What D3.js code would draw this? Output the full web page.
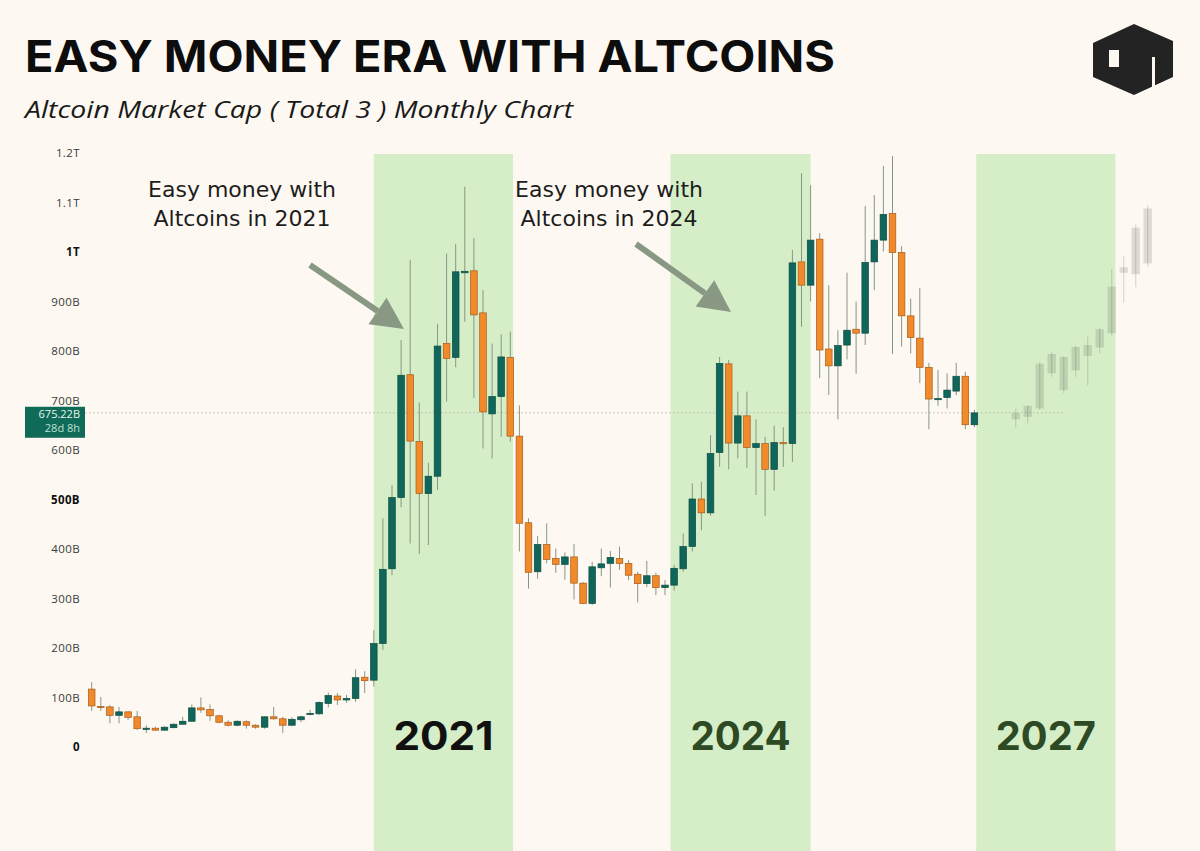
<!DOCTYPE html>
<html>
<head>
<meta charset="utf-8">
<script src="https://cdn.jsdelivr.net/npm/d3@7"></script>
<style>
  body { margin: 0; background: #fdf9f2; }
  svg { display: block; }
</style>
</head>
<body>
<svg id="chart" width="1200" height="851"></svg>
<script>
// monthly candles, values in billions (B)
const opens  = [117,82,81,64,71,61,37,38,34,39,46,52,79,76,63,50,44,51,44,40,61,57,44,55,67,67,88,103,95,98,
                141,135,209,360,504,752,617,512,547,815,787,958,962,877,673,708,787,628,453,354,409,381,369,384,331,290,362,371,381,371,
                349,330,346,322,327,360,405,501,473,595,774,614,669,605,613,561,615,613,980,933,1026,804,770,812,844,836,980,1024,1078,999,
                871,826,767,703,706,719,749,651];
const highs  = [131,101,85,81,72,73,44,41,42,48,61,86,100,86,65,54,54,54,46,62,81,61,60,63,75,92,110,109,105,157,
                153,236,462,529,822,984,696,574,855,997,1016,1132,1028,923,815,834,839,690,462,426,452,401,393,410,333,374,401,396,405,378,
                354,376,352,337,368,431,533,536,630,788,782,718,718,662,627,649,646,1004,1159,1135,1038,933,842,958,900,1093,1115,1174,1194,1012,
                906,927,776,762,755,776,758,681];
const lows   = [73,73,48,48,55,34,28,33,33,38,45,51,69,53,48,42,42,37,37,37,55,28,42,50,64,65,80,85,89,91,
                109,122,196,347,484,411,390,408,519,698,767,859,705,603,583,627,617,395,320,340,371,352,338,298,289,287,345,322,358,337,
                292,323,307,307,316,354,395,438,467,566,561,583,564,509,467,518,566,576,849,900,745,711,662,783,754,812,923,1001,794,809,
                795,735,642,689,684,711,642,646];
const closes = [83,81,64,71,60,37,38,34,40,46,52,79,75,63,50,44,52,44,40,61,57,44,56,61,68,90,104,95,98,140,
                134,209,359,504,751,618,512,547,810,785,960,961,873,677,708,788,628,452,353,409,379,369,384,331,290,364,370,383,371,347,
                330,346,322,327,361,405,501,473,593,775,614,669,605,613,561,615,613,978,933,1024,802,770,811,842,836,979,1024,1076,999,871,
                827,767,703,704,721,749,651,675];

// projected path (faded candles)
const ghostOpen  = [662,667,684,755,788,761,790,807,836,958,955,977];
const ghostHigh  = [684,691,778,797,790,810,829,846,965,992,1056,1095];
const ghostLow   = [646,654,681,748,715,748,731,795,832,898,929,970];
const ghostClose = [675,689,774,794,721,808,812,844,930,969,1049,1088];

// highlighted easy-money windows (candle index units)
const eraNames = ["2021", "2024", "2027"];
const eraStart = [31.0, 63.6, 97.2];
const eraEnd   = [46.3, 79.0, 112.5];
const eraColor = ["#111111", "#2d4a24", "#2d4a24"];

const yTickValues = [0,100,200,300,400,500,600,700,800,900,1000,1100,1200];
const yTickLabels = ["0","100B","200B","300B","400B","500B","600B","700B","800B","900B","1T","1.1T","1.2T"];
const yTickBold   = ["0","500B","1T"];

const lastPrice = 675.22;

const svg = d3.select("#chart");
const W = 1200, H = 851;

svg.append("rect").attr("width", W).attr("height", H).attr("fill", "#fdf9f2");

const y = d3.scaleLinear().domain([0, 1200]).range([747, 153]);
const x = d3.scaleLinear().domain([0, opens.length - 1]).range([91.7, 974.4]);
const gx = d3.scaleLinear().domain([0, ghostOpen.length - 1]).range([1015.7, 1147.7]);
const bodyW = 6.6, ghostW = 8.4;

// era bands
eraNames.forEach((name, i) => {
    svg.append("rect")
        .attr("x", x(eraStart[i]))
        .attr("y", 154)
        .attr("width", x(eraEnd[i]) - x(eraStart[i]))
        .attr("height", H - 154)
        .attr("fill", "#d5eec8");
});

// y axis labels
const yAxis = svg.append("g");
yTickValues.forEach((v, i) => {
    const bold = yTickBold.includes(yTickLabels[i]);
    yAxis.append("text")
        .attr("x", 80)
        .attr("y", y(v))
        .attr("dy", "0.35em")
        .attr("text-anchor", "end")
        .style("font-family", "'Open Sans', sans-serif")
        .style("font-size", "11.5px")
        .style("letter-spacing", "0.4px")
        .style("font-weight", bold ? "700" : "400")
        .style("fill", bold ? "#111" : "#3a3a3a")
        .text(yTickLabels[i]);
});

// last price dotted line
svg.append("line")
    .attr("x1", 85).attr("x2", 1065)
    .attr("y1", y(lastPrice)).attr("y2", y(lastPrice))
    .attr("stroke", "#b9b9b0")
    .attr("stroke-width", 1)
    .attr("stroke-dasharray", "1.5,2.5");

// candles
const candles = svg.append("g");
const up = "#10665a", down = "#f18a2b";
opens.forEach((o, i) => {
    const c = closes[i];
    const isUp = c >= o;
    candles.append("line")
        .attr("x1", x(i)).attr("x2", x(i))
        .attr("y1", y(highs[i])).attr("y2", y(lows[i]))
        .attr("stroke", "#889684")
        .attr("stroke-width", 1);
    candles.append("rect")
        .attr("x", x(i) - bodyW / 2)
        .attr("y", y(Math.max(o, c)))
        .attr("width", bodyW)
        .attr("height", Math.max(1.2, Math.abs(y(o) - y(c))))
        .attr("fill", isUp ? up : down)
        .attr("stroke", isUp ? "#0b4d42" : "#a95a17")
        .attr("stroke-width", 0.7);
});

// projected candles
ghostOpen.forEach((o, i) => {
    const c = ghostClose[i];
    candles.append("line")
        .attr("x1", gx(i)).attr("x2", gx(i))
        .attr("y1", y(ghostHigh[i])).attr("y2", y(ghostLow[i]))
        .attr("stroke", "#4a4a40")
        .attr("stroke-opacity", 0.18)
        .attr("stroke-width", 1.2);
    candles.append("rect")
        .attr("x", gx(i) - ghostW / 2)
        .attr("y", y(Math.max(o, c)))
        .attr("width", ghostW)
        .attr("height", Math.max(1.5, Math.abs(y(o) - y(c))))
        .attr("fill", "#4a4a40")
        .attr("fill-opacity", 0.17);
});

// last price tag
svg.append("rect")
    .attr("x", 25).attr("y", y(lastPrice) - 6)
    .attr("width", 60).attr("height", 31)
    .attr("fill", "#0f6a57");
svg.append("text")
    .attr("x", 80).attr("y", y(lastPrice) + 5)
    .attr("text-anchor", "end")
    .style("font-family", "'Open Sans', sans-serif")
    .style("font-size", "11px")
    .style("fill", "#e6f4ee")
    .text(lastPrice.toFixed(2) + "B");
svg.append("text")
    .attr("x", 80).attr("y", y(lastPrice) + 19)
    .attr("text-anchor", "end")
    .style("font-family", "'Open Sans', sans-serif")
    .style("font-size", "11px")
    .style("fill", "#bfe0d4")
    .text("28d 8h");

// era year labels
eraNames.forEach((name, i) => {
    svg.append("text")
        .attr("x", (x(eraStart[i]) + x(eraEnd[i])) / 2)
        .attr("y", 750)
        .attr("text-anchor", "middle")
        .attr("textLength", 100)
        .attr("lengthAdjust", "spacingAndGlyphs")
        .style("font-family", "Inter, 'Open Sans', sans-serif")
        .style("font-size", "39px")
        .style("font-weight", "700")
        .style("fill", eraColor[i])
        .text(name);
});

// annotations
const notes = [
    { cx: 242, lines: ["Easy money with", "Altcoins in 2021"], from: [310, 265], to: [404, 329] },
    { cx: 609, lines: ["Easy money with", "Altcoins in 2024"], from: [636, 244], to: [731, 312] }
];
notes.forEach(n => {
    n.lines.forEach((t, j) => {
        svg.append("text")
            .attr("x", n.cx).attr("y", 197 + j * 29)
            .attr("text-anchor", "middle")
            .style("font-family", "'DejaVu Sans', sans-serif")
            .style("font-size", "22px")
            .style("fill", "#1d1d1d")
            .text(t);
    });
    const [x0, y0] = n.from, [x1, y1] = n.to;
    const ang = Math.atan2(y1 - y0, x1 - x0);
    const headL = 32, headW = 16;
    const bx = x1 - headL * Math.cos(ang), by = y1 - headL * Math.sin(ang);
    svg.append("line")
        .attr("x1", x0).attr("y1", y0).attr("x2", bx).attr("y2", by)
        .attr("stroke", "#899883").attr("stroke-width", 6);
    const px = -Math.sin(ang), py = Math.cos(ang);
    svg.append("path")
        .attr("d", `M${x1},${y1}L${bx + px * headW},${by + py * headW}L${bx - px * headW},${by - py * headW}Z`)
        .attr("fill", "#899883");
});

// title
svg.append("text")
    .attr("x", 25).attr("y", 72)
    .attr("textLength", 810)
    .attr("lengthAdjust", "spacingAndGlyphs")
    .style("font-family", "Inter, 'Open Sans', sans-serif")
    .style("font-size", "44px")
    .style("font-weight", "700")
    .style("fill", "#0d0d0d")
    .text("EASY MONEY ERA WITH ALTCOINS");

svg.append("text")
    .attr("x", 25).attr("y", 118)
    .attr("textLength", 548)
    .attr("lengthAdjust", "spacingAndGlyphs")
    .style("font-family", "'Open Sans', sans-serif")
    .style("font-size", "23px")
    .style("font-style", "italic")
    .style("fill", "#1a1a1a")
    .text("Altcoin Market Cap ( Total 3 ) Monthly Chart");

// logo
const logo = svg.append("g");
logo.append("path")
    .attr("d", "M1134,24L1173,41L1173,77L1134,95L1093,77L1093,43Z")
    .attr("fill", "#232323");
logo.append("rect")
    .attr("x", 1109).attr("y", 50).attr("width", 10).attr("height", 17)
    .attr("fill", "#fdf9f2");
logo.append("path")
    .attr("d", "M1152,57L1155,57L1155,88L1152,89Z")
    .attr("fill", "#fdf9f2");
</script>
</body>
</html>
